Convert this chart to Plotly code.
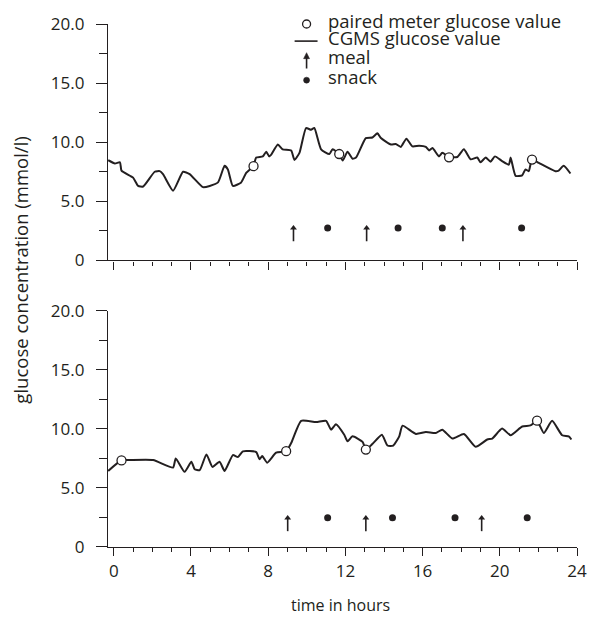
import plotly.graph_objects as go

# ---------------- data ----------------
# top panel: CGMS curve
t_top = [-0.29, 0.06, 0.32, 0.40, 1.00, 1.26, 1.52, 2.12, 2.38, 2.55, 3.07, 3.59, 3.93,
         4.62, 4.97, 5.40, 5.74, 5.91, 6.17, 6.60, 6.86, 7.24, 7.38, 7.72, 7.90, 8.05,
         8.16, 8.50, 8.75, 9.19, 9.36, 9.62, 9.96, 10.22, 10.39, 10.74, 11.17, 11.34,
         11.68, 11.86, 12.11, 12.37, 12.55, 13.06, 13.40, 13.66, 13.84, 14.36, 14.61,
         14.87, 15.16, 15.47, 15.82, 16.17, 16.34, 16.51, 16.85, 17.02, 17.37, 17.80,
         18.14, 18.49, 18.83, 19.00, 19.27, 19.52, 19.75, 20.12, 20.47, 20.56, 20.82,
         21.16, 21.33, 21.50, 21.67, 22.02, 22.88, 23.05, 23.31, 23.66]
g_top = [8.48, 8.2, 8.3, 7.6, 7.0, 6.3, 6.25, 7.5, 7.55, 7.3, 5.9, 7.5, 7.3,
         6.2, 6.3, 6.6, 8.0, 7.7, 6.3, 6.6, 7.4, 8.0, 8.7, 8.8, 9.2, 8.8,
         8.95, 9.8, 9.4, 9.3, 8.5, 9.1, 11.2, 11.05, 11.2, 9.4, 9.0, 9.4,
         9.0, 8.45, 9.2, 8.6, 8.7, 10.35, 10.4, 10.75, 10.35, 9.8, 9.85,
         9.6, 10.3, 9.65, 9.7, 9.6, 9.3, 9.5, 8.8, 9.1, 8.75, 8.75,
         9.4, 8.55, 8.7, 8.3, 8.7, 8.35, 8.8, 8.4, 8.1, 8.7, 7.15,
         7.2, 7.7, 7.55, 8.55, 8.25, 7.55, 7.6, 8.0, 7.35]
meter_t_top = [7.24, 11.68, 17.37, 21.67]
meter_g_top = [7.97, 9.0, 8.72, 8.53]
meal_top = [9.31, 13.1, 18.09]
snack_top = [11.08, 14.73, 17.02, 21.13]

# bottom panel: CGMS curve
t_bot = [-0.29, 0.40, 0.83, 2.04, 3.07, 3.21, 3.67, 4.02, 4.19, 4.45, 4.80, 5.11, 5.48,
         5.74, 6.17, 6.43, 6.69, 7.38, 7.55, 7.69, 7.95, 8.41, 8.93, 9.19, 9.71, 10.48,
         11.00, 11.26, 11.51, 11.94, 12.11, 12.37, 12.89, 13.06, 13.41, 13.89, 14.18,
         14.48, 14.79, 14.96, 15.65, 16.17, 16.68, 17.02, 17.54, 18.14, 18.75, 19.35,
         19.61, 20.12, 20.56, 21.16, 21.59, 21.93, 22.28, 22.71, 23.23, 23.57, 23.71]
g_bot = [6.44, 7.34, 7.36, 7.36, 6.72, 7.5, 6.36, 7.22, 6.58, 6.5, 7.84, 6.78, 7.22,
         6.44, 7.78, 7.61, 8.1, 8.03, 7.42, 7.7, 7.14, 7.98, 8.1, 8.8, 10.68, 10.57,
         10.68, 9.93, 10.4, 9.5, 8.95, 9.37, 8.9, 8.26, 8.73, 9.5, 8.59,
         8.59, 9.37, 10.27, 9.57, 9.73, 9.65, 9.93, 9.18, 9.57, 8.48, 9.1,
         9.18, 10.02, 9.46, 10.2, 10.29, 10.68, 9.65, 10.68, 9.46, 9.37, 9.1]
meter_t_bot = [0.40, 8.93, 13.06, 21.93]
meter_g_bot = [7.33, 8.11, 8.25, 10.69]
meal_bot = [9.01, 13.06, 19.06]
snack_bot = [11.08, 14.44, 17.68, 21.42]

x_tickvals = [0, 4, 8, 12, 16, 20, 24]
x_ticktext = ["0", "4", "8", "12", "16", "20", "24"]
y_tickvals = [0, 5, 10, 15, 20]
y_ticktext = ["0", "5.0", "10.0", "15.0", "20.0"]

legend_labels = ["paired meter glucose value", "CGMS glucose value", "meal", "snack"]

# ---------------- style ----------------
INK = "#231f20"
FONT = "Open Sans"

fig = go.Figure()


def add_panel(xa, ya, t, g, mt, mg, meals, snacks, meal_lo, meal_hi, snack_y):
    fig.add_trace(go.Scatter(x=t, y=g, mode="lines", xaxis=xa, yaxis=ya,
                             line=dict(color=INK, width=2, shape="spline", smoothing=0.5),
                             showlegend=False, hoverinfo="skip"))
    fig.add_trace(go.Scatter(x=mt, y=mg, mode="markers", xaxis=xa, yaxis=ya,
                             marker=dict(symbol="circle", size=9, color="white",
                                         line=dict(color=INK, width=1.3)),
                             showlegend=False))
    sx, sy = [], []
    for m in meals:
        sx += [m, m, None]
        sy += [meal_lo, meal_hi - 0.2, None]
    fig.add_trace(go.Scatter(x=sx, y=sy, mode="lines", xaxis=xa, yaxis=ya,
                             line=dict(color=INK, width=1.6), showlegend=False))
    fig.add_trace(go.Scatter(x=meals, y=[meal_hi - 0.2] * len(meals), mode="markers",
                             xaxis=xa, yaxis=ya,
                             marker=dict(symbol="triangle-up", size=6, color=INK),
                             showlegend=False))
    fig.add_trace(go.Scatter(x=snacks, y=[snack_y] * len(snacks), mode="markers",
                             xaxis=xa, yaxis=ya,
                             marker=dict(symbol="circle", size=7, color=INK),
                             showlegend=False))


add_panel("x", "y", t_top, g_top, meter_t_top, meter_g_top, meal_top, snack_top,
          1.63, 2.94, 2.74)
add_panel("x2", "y2", t_bot, g_bot, meter_t_bot, meter_g_bot, meal_bot, snack_bot,
          1.34, 2.66, 2.47)

# ---------------- legend (paper coordinates) ----------------
SX = 0.4234            # symbol centre
SX0, SX1 = 0.3979, 0.4468
TX = 0.4639            # text start
row_sym = [1.0, 0.9673, 0.93, 0.8926]
row_txt = [1.0068, 0.974, 0.937, 0.899]

shapes = [
    dict(type="circle", xref="paper", yref="paper", xsizemode="pixel", ysizemode="pixel",
         xanchor=SX, yanchor=row_sym[0], x0=-4, x1=4, y0=-4, y1=4,
         line=dict(color=INK, width=1.3), fillcolor="white"),
    dict(type="line", xref="paper", yref="paper", x0=SX0, x1=SX1,
         y0=row_sym[1], y1=row_sym[1], line=dict(color=INK, width=1.6)),
    dict(type="line", xref="paper", yref="paper", x0=SX, x1=SX,
         y0=0.9149, y1=0.9357, line=dict(color=INK, width=1.6)),
    dict(type="path", xref="paper", yref="paper", xsizemode="pixel", ysizemode="pixel",
         xanchor=SX, yanchor=0.9452, path="M -3,-6 L 3,-6 L 0,0 Z",
         line=dict(color=INK, width=0.5), fillcolor=INK),
    dict(type="circle", xref="paper", yref="paper", xsizemode="pixel", ysizemode="pixel",
         xanchor=SX, yanchor=row_sym[3], x0=-3, x1=3, y0=-3, y1=3,
         line=dict(color=INK, width=0.5), fillcolor=INK),
]
for lab, ry in zip(legend_labels, row_txt):
    fig.add_annotation(x=TX, y=ry, xref="paper", yref="paper", text=lab, showarrow=False,
                       xanchor="left", yanchor="middle",
                       font=dict(family=FONT, size=18.5, color=INK))

axis_common = dict(showline=True, linecolor=INK, linewidth=1.3, showgrid=False,
                   zeroline=False, ticks="outside", tickcolor=INK, tickwidth=1.2)

xcommon = dict(axis_common, range=[-0.3, 24], tickvals=x_tickvals, ticktext=x_ticktext,
               ticklen=8, minor=dict(dtick=1, tick0=0, ticks="outside", ticklen=4,
                                     tickcolor=INK, tickwidth=1.2),
               tickfont=dict(family=FONT, size=17, color=INK))
ycommon = dict(axis_common, range=[0, 20], tickvals=y_tickvals, ticktext=y_ticktext,
               ticklen=11, ticklabelstandoff=8,
               minor=dict(tickvals=[2.5, 7.5, 12.5, 17.5], ticks="outside",
                          ticklen=8, tickcolor=INK, tickwidth=1.2),
               tickfont=dict(family=FONT, size=17, color=INK))

fig.update_layout(
    width=599, height=618,
    margin=dict(l=108, r=21, t=18, b=71),
    paper_bgcolor="white", plot_bgcolor="white",
    xaxis=dict(xcommon, domain=[0, 1], anchor="y", showticklabels=False),
    yaxis=dict(ycommon, domain=[0.548, 1], anchor="x"),
    xaxis2=dict(xcommon, domain=[0, 1], anchor="y2"),
    yaxis2=dict(ycommon, domain=[0, 0.4518], anchor="x2"),
    showlegend=False,
    shapes=shapes,
)

fig.add_annotation(x=-0.187, y=0.529, xref="paper", yref="paper",
                   text="glucose concentration (mmol/l)", textangle=-90, showarrow=False,
                   xanchor="center", yanchor="middle",
                   font=dict(family=FONT, size=18.5, color=INK))
fig.add_annotation(x=0.495, y=-0.11, xref="paper", yref="paper", text="time in hours",
                   showarrow=False, xanchor="center", yanchor="middle",
                   font=dict(family=FONT, size=16, color=INK))

fig.write_html("out.html",
               config={"displayModeBar": False},
               post_script="document.body.style.margin='0px';"
                           "document.body.style.overflow='hidden';")
